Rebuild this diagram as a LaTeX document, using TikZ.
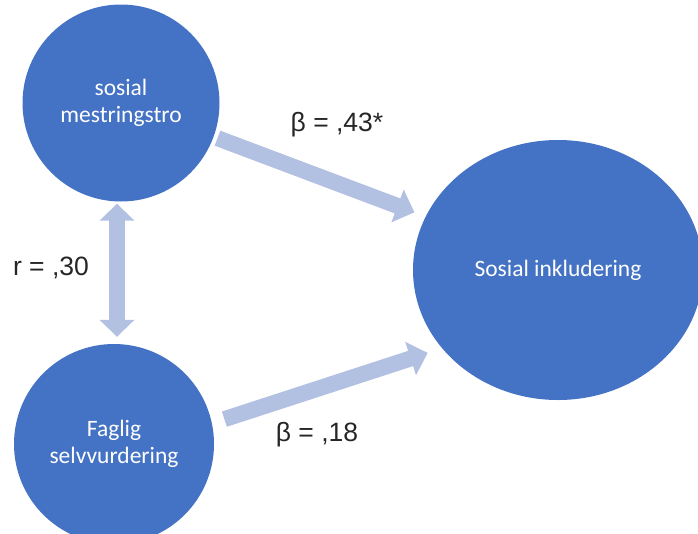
\documentclass[tikz,border=0pt]{standalone}
\usepackage{fontspec}
\setmainfont{Liberation Sans}
\newfontfamily\calfont{Carlito}
\usetikzlibrary{arrows.meta,shapes.geometric}
\definecolor{ofblue}{RGB}{68,114,196}
\definecolor{arrowblue}{RGB}{178,192,226}
\tikzset{
  var_c/.style = {circle, fill=ofblue, draw=none, text=white, align=center,
    font=\calfont\fontsize{23.5}{27.5}\selectfont, minimum size=197pt, inner sep=0pt},% latent variabel
  var_e/.style = {ellipse, fill=ofblue, draw=none, text=white, align=center,
    font=\calfont\fontsize{23.5}{27.5}\selectfont, minimum width=290pt, minimum height=260pt, inner sep=0pt},% utfall
  path_a/.style = {arrowblue, line width=16pt, -{Triangle[width=34pt,length=18pt]}},
  path_r/.style = {arrowblue, line width=16pt,
    {Triangle[width=34pt,length=17pt]}-{Triangle[width=34pt,length=17pt]}},
  coef/.style = {font=\fontsize{26.5}{30}\selectfont, text=black!85},
}

\begin{document}
\begin{tikzpicture}[x=1pt,y=-1pt]
  \useasboundingbox (0,0) rectangle (698,533);

  \node[var_c] (soc) at (121,103) {sosial\\mestringstro};
  \node[var_c, minimum size=200pt] (fag) at (114,444) {Faglig\\selvvurdering};
  \node[var_e] (incl) at (558,270) {Sosial inkludering};
  \coordinate (mid) at (117,270);

  %   stier
  \draw[path_a, shorten <=4pt, shorten >=12pt] (soc.-20) -- (incl.158);
  \draw[path_a, shorten <=13pt, shorten >=15pt] (fag.12) -- (incl.214);
  %   korrelasjon
  \draw[path_r, shorten <=2pt, shorten >=7pt] (mid |- soc.south) -- (mid |- fag.north);

  \node[coef] (b1) at (337,125) {β = ,43*};
  \node[coef] (r1) at (51,268) {r = ,30};
  \node[coef] (b2) at (317,435) {β = ,18};
\end{tikzpicture}
\end{document}
